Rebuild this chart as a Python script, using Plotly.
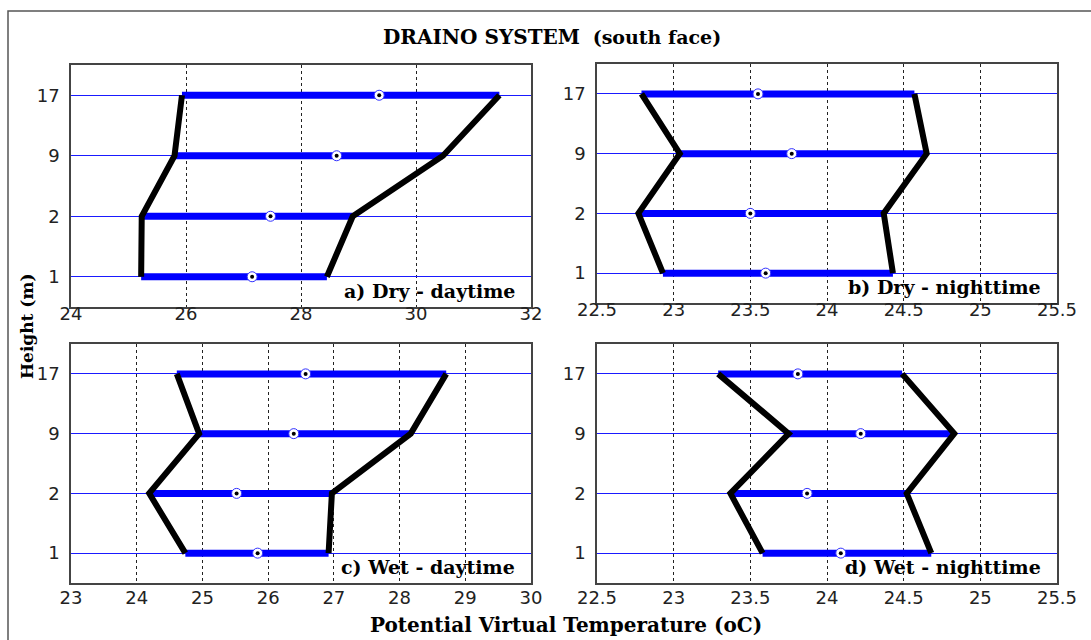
import plotly.graph_objects as go

# Measurement heights (m), bottom to top
heights = ["1", "2", "9", "17"]

# Potential virtual temperature (oC): minimum, maximum and mean at each height
dry_day_min = [25.22, 25.23, 25.80, 25.93]
dry_day_max = [28.45, 28.90, 30.47, 31.45]
dry_day_mean = [27.15, 27.47, 28.62, 29.36]

dry_night_min = [22.93, 22.77, 23.04, 22.79]
dry_night_max = [24.43, 24.37, 24.65, 24.57]
dry_night_mean = [23.60, 23.50, 23.77, 23.55]

wet_day_min = [24.74, 24.19, 24.95, 24.61]
wet_day_max = [26.92, 26.97, 28.17, 28.71]
wet_day_mean = [25.84, 25.52, 26.39, 26.57]

wet_night_min = [23.58, 23.37, 23.75, 23.29]
wet_night_max = [24.68, 24.52, 24.83, 24.49]
wet_night_mean = [24.09, 23.87, 24.22, 23.81]

panel_labels = ["a) Dry - daytime", "b) Dry - nighttime", "c) Wet - daytime", "d) Wet - nighttime"]
x_ranges = [[24, 32], [22.5, 25.5], [23, 30], [22.5, 25.5]]
x_dticks = [2, 0.5, 1, 0.5]

panels = [
    (dry_day_min, dry_day_max, dry_day_mean),
    (dry_night_min, dry_night_max, dry_night_mean),
    (wet_day_min, wet_day_max, wet_day_mean),
    (wet_night_min, wet_night_max, wet_night_mean),
]

W, H = 1091, 640
# panel boxes in pixels: left, right, top, bottom
boxes = [
    (71, 531, 65, 307),
    (597, 1057, 64, 303),
    (71, 531, 344, 583),
    (597, 1057, 344, 583),
]
# tick-label standoff for the upper and lower rows
label_standoff = [-10, -10, -2, -2]

serif = "DejaVu Serif, Liberation Serif, serif"
sans = "DejaVu Sans, Liberation Sans, Arial"

fig = go.Figure()

for i, (mins, maxs, means) in enumerate(panels):
    n = "" if i == 0 else str(i + 1)
    xa, ya = "x" + n, "y" + n

    # thick blue range bars
    bx, by = [], []
    for h, lo, hi in zip(heights, mins, maxs):
        bx += [lo, hi, None]
        by += [h, h, None]
    fig.add_trace(go.Scatter(x=bx, y=by, mode="lines", xaxis=xa, yaxis=ya,
                             line=dict(color="#0000ff", width=7), showlegend=False,
                             hoverinfo="skip"))
    # black envelopes joining the minima and the maxima
    for edge in (mins, maxs):
        fig.add_trace(go.Scatter(x=edge, y=heights, mode="lines", xaxis=xa, yaxis=ya,
                                 line=dict(color="black", width=6), showlegend=False))
    # mean markers
    fig.add_trace(go.Scatter(x=means, y=heights, mode="markers", xaxis=xa, yaxis=ya,
                             marker=dict(symbol="circle", size=10, color="white",
                                         line=dict(color="#3030ff", width=1)),
                             showlegend=False))
    fig.add_trace(go.Scatter(x=means, y=heights, mode="markers", xaxis=xa, yaxis=ya,
                             marker=dict(symbol="circle", size=4, color="black"),
                             showlegend=False, hoverinfo="skip"))

    l, r, t, b = boxes[i]
    axis_common = dict(showline=True, mirror=True, linecolor="#444", linewidth=1.5,
                       zeroline=False, automargin=False,
                       tickfont=dict(family=sans, size=18, color="#222"))
    fig.layout["xaxis" + n] = dict(
        axis_common, domain=[l / W, r / W], anchor=ya, range=x_ranges[i],
        tick0=x_ranges[i][0], dtick=x_dticks[i], showgrid=True, gridcolor="#222",
        gridwidth=1, griddash="3px,3px", ticks="", ticklabelstandoff=label_standoff[i])
    fig.layout["yaxis" + n] = dict(
        axis_common, domain=[1 - b / H, 1 - t / H], anchor=xa, type="category",
        categoryorder="array", categoryarray=heights, range=[-0.5, 3.5],
        showgrid=True, gridcolor="#1a1aff", gridwidth=1, ticks="outside", ticklen=6,
        tickcolor="rgba(0,0,0,0)")

    fig.add_annotation(x=(r - 14) / W, y=1 - (b - 16) / H, xref="paper", yref="paper",
                       xanchor="right", yanchor="middle", showarrow=False,
                       text="<b>" + panel_labels[i] + "</b>",
                       font=dict(family=serif, size=19, color="black"))

fig.add_annotation(x=552 / W, y=1 - 37 / H, xref="paper", yref="paper", showarrow=False,
                   xanchor="center", yanchor="middle",
                   text="<b>DRAINO SYSTEM</b>  <b><span style='font-size:19px'>(south face)</span></b>",
                   font=dict(family=serif, size=20, color="black"))
fig.add_annotation(x=566 / W, y=1 - 625 / H, xref="paper", yref="paper", showarrow=False,
                   xanchor="center", yanchor="middle",
                   text="<b>Potential Virtual Temperature (oC)</b>",
                   font=dict(family=serif, size=20, color="black"))
fig.add_annotation(x=27 / W, y=1 - 327 / H, xref="paper", yref="paper", showarrow=False,
                   xanchor="center", yanchor="middle", textangle=-90,
                   text="<b>Height (m)</b>",
                   font=dict(family=serif, size=17, color="black"))

# outer frame
fig.add_shape(type="path", xref="paper", yref="paper",
              path=f"M {8 / W} 0 L {8 / W} {1 - 11 / H} L 1 {1 - 11 / H}",
              line=dict(color="#555", width=1.5))

fig.update_layout(width=W, height=H, margin=dict(l=0, r=0, t=0, b=0, autoexpand=False),
                  paper_bgcolor="white", plot_bgcolor="white")

fig.write_html("out.html")
